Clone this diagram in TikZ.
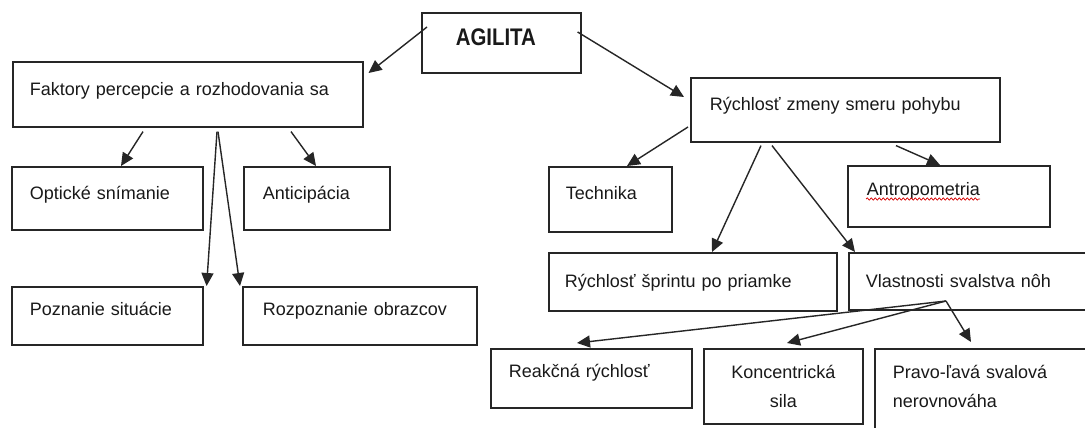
\documentclass[tikz,border=0pt]{standalone}
\usepackage{fontspec}
\setmainfont{Liberation Sans}
\newfontfamily\agfont{Liberation Sans}[FakeStretch=0.85]
\usetikzlibrary{arrows.meta,calc,decorations.pathmorphing}
\setlength{\parindent}{0pt}
\begin{document}
\begin{tikzpicture}[x=1pt,y=-1pt,
  box/.style={draw=black!85, line width=1.6pt, anchor=north west, inner ysep=0pt,
    align=left, font=\fontsize{18}{29}\selectfont, text=black!90},
  conn/.style={draw=black!85, line width=1.4pt, -{Triangle[length=13pt,width=12pt]}},
  squiggle/.style={draw=red!85!black, line width=0.7pt, decorate,
    decoration={snake, amplitude=1.1pt, segment length=4pt}}]
\useasboundingbox (0,0) rectangle (1085,428);
\clip (0,0) rectangle (1085,428);
\fill[white] (0,0) rectangle (1085,428);

% top level
\node[box, inner xsep=34pt, text width=91pt, text height=33pt, text depth=27pt,
  font=\agfont\bfseries\fontsize{24}{29}\selectfont] (agilita) at (421,12) {AGILITA};

% left branch
\node[box, inner xsep=17pt, text width=316pt, text height=34pt, text depth=31pt]
  (faktory) at (12,61) {Faktory percepcie a rozhodovania sa};
\node[box, inner xsep=18pt, text width=155pt, text height=33pt, text depth=30pt]
  (opticke) at (11,166) {Optické snímanie};
\node[box, inner xsep=19pt, text width=108pt, text height=33pt, text depth=30pt]
  (anticip) at (243,166) {Anticipácia};
\node[box, inner xsep=18pt, text width=155pt, text height=29pt, text depth=29pt]
  (poznanie) at (11,286) {Poznanie situácie};
\node[box, inner xsep=20pt, text width=194pt, text height=29pt, text depth=29pt]
  (rozpozn) at (242,286) {Rozpoznanie obrazcov};

% right branch
\node[box, inner xsep=19pt, text width=271pt, text height=33pt, text depth=31pt]
  (rychlost) at (690,77) {Rýchlosť zmeny smeru pohybu};
\node[box, inner xsep=17pt, text width=89pt, text height=33pt, text depth=32pt]
  (technika) at (548,166) {Technika};
\node[box, inner xsep=19pt, text width=164pt, text height=30pt, text depth=31pt]
  (antropo) at (847,165) {Antropometria};
\node[box, inner xsep=16pt, text width=256pt, text height=35pt, text depth=23pt]
  (sprint) at (548,252) {Rýchlosť šprintu po priamke};
\node[box, inner xsep=17pt, text width=216pt, text height=35pt, text depth=22pt]
  (vlastnosti) at (848,252) {Vlastnosti svalstva nôh};
\node[box, inner xsep=18pt, text width=165pt, text height=29pt, text depth=30pt]
  (reakcna) at (490,348) {Reakčná rýchlosť};
\node[box, inner xsep=10pt, text width=139pt, text height=30pt, text depth=45pt, align=center]
  (koncentr) at (703,348) {\begin{tabular}[t]{@{}c@{}}Koncentrická\\ sila\end{tabular}};
\node[box, inner xsep=18pt, text width=184pt, text height=30pt, text depth=70pt]
  (pravo) at (874,348) {\begin{tabular}[t]{@{}l@{}}Pravo-ľavá svalová\\ nerovnováha\end{tabular}};

% spell-check underline
\draw[squiggle] ($(antropo.north west)+(19,34)$) -- ($(antropo.north west)+(133,34)$);

% connectors
\draw[conn] ($(agilita.north west)+(6,15)$) -- ($(faktory.north east)+(5,12)$);
\draw[conn] ($(agilita.north east)+(-4,20)$) -- ($(rychlost.north west)+(-6,20)$);

\draw[conn] ($(faktory.south west)+(131,4)$) -- ($(opticke.north west)+(110,0)$);
\draw[conn] ($(faktory.south west)+(205,4)$) -- ($(poznanie.north east)+(3,0)$);
\draw[conn] ($(faktory.south west)+(206,4)$) -- ($(rozpozn.north west)+(-2,0)$);
\draw[conn] ($(faktory.south west)+(279,4)$) -- ($(anticip.north west)+(73,0)$);

\draw[conn] ($(rychlost.north west)+(-2,50)$) -- ($(technika.north west)+(79,0)$);
\draw[conn] ($(rychlost.south west)+(71,3)$) -- ($(sprint.north west)+(164,0)$);
\draw[conn] ($(rychlost.south west)+(82,3)$) -- ($(vlastnosti.north west)+(7,0)$);
\draw[conn] ($(rychlost.south west)+(206,3)$) -- ($(antropo.north west)+(93,0)$);

\coordinate (hub) at ($(vlastnosti.north west)+(98,49)$);
\draw[conn] (hub) -- ($(reakcna.north west)+(87,-5)$);
\draw[conn] (hub) -- ($(koncentr.north west)+(84,-5)$);
\draw[conn] (hub) -- ($(pravo.north west)+(97,-6)$);
\end{tikzpicture}
\end{document}
